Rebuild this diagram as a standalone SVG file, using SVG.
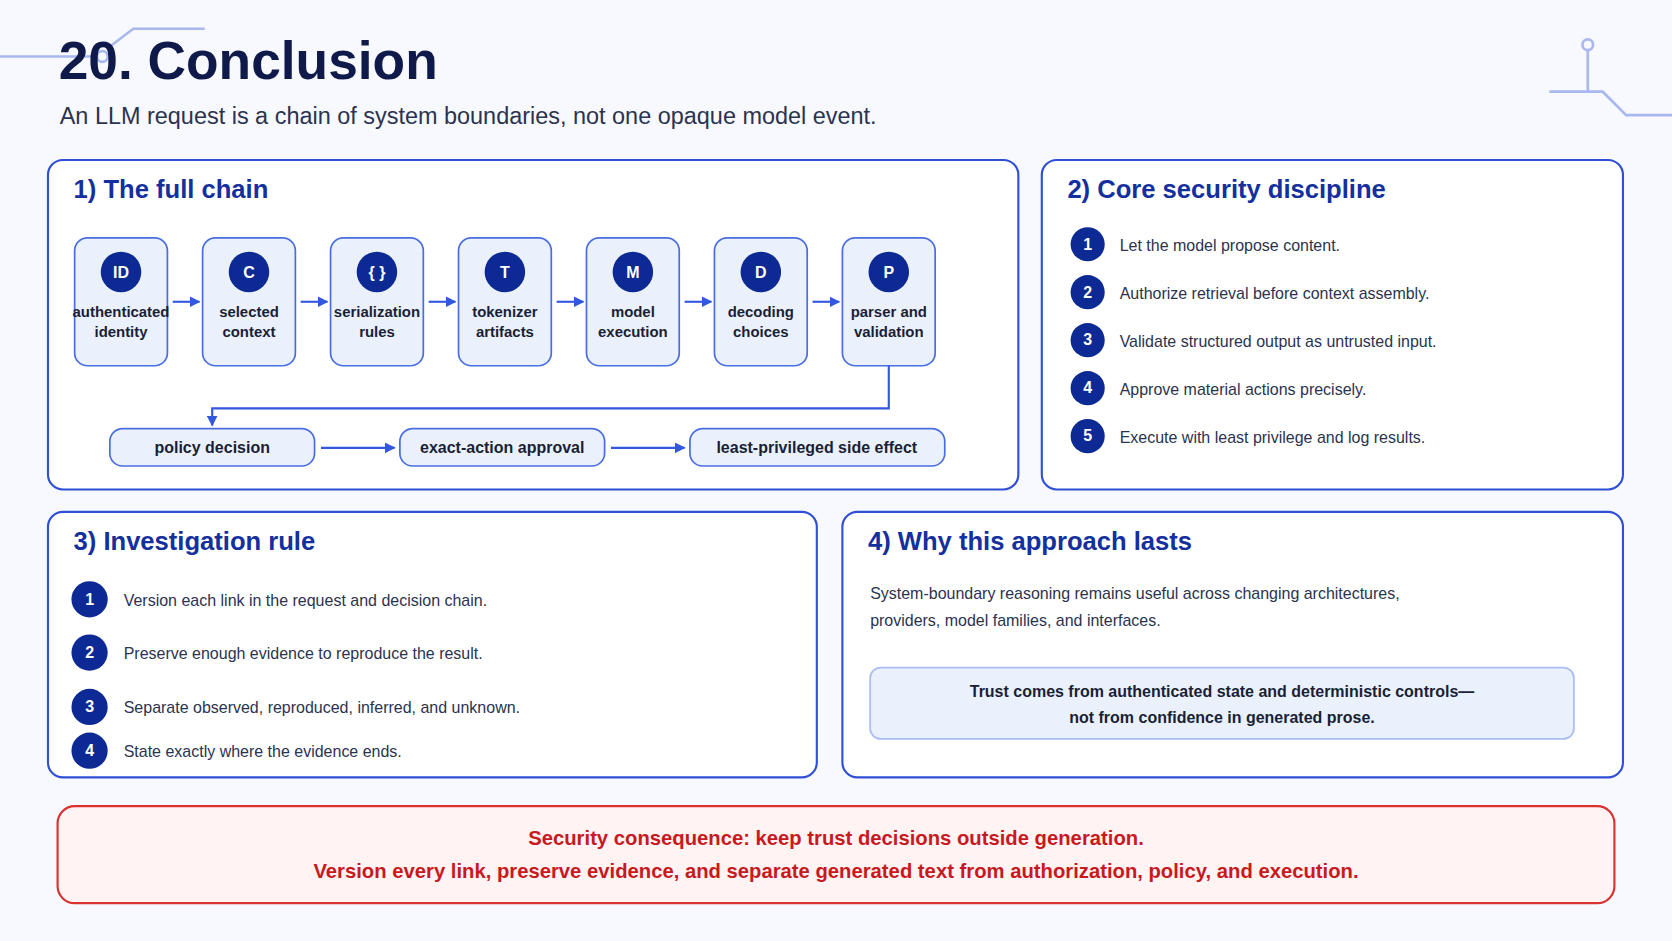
<svg xmlns="http://www.w3.org/2000/svg" width="1672" height="941" viewBox="0 0 1672 941">
<defs>
<style>
text{font-family:"Liberation Sans",Arial,sans-serif}
.panel{fill:#fff;stroke:#2f4fd6;stroke-width:2}
.ptitle{font-size:24px;font-weight:bold;fill:#13309e}
.node{fill:#eaf1fd;stroke:#4a6ee0;stroke-width:1.6}
.circ{fill:#0d2a94}
.clet{font-size:15px;font-weight:bold;fill:#fff;text-anchor:middle}
.nlab{font-size:14px;font-weight:bold;fill:#1a1f36;text-anchor:middle}
.pill{font-size:15px;font-weight:bold;fill:#1a1f36;text-anchor:middle}
.item{font-size:15px;fill:#2b3350}
.conn{stroke:#3358e0;stroke-width:2;fill:none}
.deco{stroke:#a9b8f0;stroke-width:2.5;fill:none}
</style>
<marker id="ah" viewBox="0 0 10 10" refX="9" refY="5" markerWidth="5" markerHeight="5" orient="auto"><path d="M0,0L10,5L0,10z" fill="#3358e0"/></marker>
</defs>
<g transform="scale(1.06633)">
<rect x="0" y="0" width="1568" height="883" fill="#f7f9fe"/>
<g id="decor">
<path class="deco" d="M0,53H92M100,46L125,27H192"/>
<circle class="deco" cx="96" cy="53" r="5"/>
<circle class="deco" cx="1489" cy="42" r="5"/>
<path class="deco" d="M1489,47V86M1453,86H1503L1525,108H1568"/>
</g>
<text x="55" y="74" font-size="50" font-weight="bold" fill="#0f1a4a">20. Conclusion</text>
<text x="56" y="116" font-size="22" fill="#2b3350">An LLM request is a chain of system boundaries, not one opaque model event.</text>

<g id="panel1">
<rect class="panel" x="45" y="150" width="910" height="309" rx="14"/>
<text class="ptitle" x="69" y="186">1) The full chain</text>
</g>
<g id="n1"><rect class="node" x="70" y="223" width="87" height="120" rx="12"/><circle class="circ" cx="113.5" cy="255" r="19"/><text class="clet" x="113.5" y="261">ID</text><text class="nlab" x="113.5" y="297">authenticated</text><text class="nlab" x="113.5" y="316">identity</text></g>
<g id="n2"><rect class="node" x="190" y="223" width="87" height="120" rx="12"/><circle class="circ" cx="233.5" cy="255" r="19"/><text class="clet" x="233.5" y="261">C</text><text class="nlab" x="233.5" y="297">selected</text><text class="nlab" x="233.5" y="316">context</text></g>
<g id="n3"><rect class="node" x="310" y="223" width="87" height="120" rx="12"/><circle class="circ" cx="353.5" cy="255" r="19"/><text class="clet" x="353.5" y="261">{ }</text><text class="nlab" x="353.5" y="297">serialization</text><text class="nlab" x="353.5" y="316">rules</text></g>
<g id="n4"><rect class="node" x="430" y="223" width="87" height="120" rx="12"/><circle class="circ" cx="473.5" cy="255" r="19"/><text class="clet" x="473.5" y="261">T</text><text class="nlab" x="473.5" y="297">tokenizer</text><text class="nlab" x="473.5" y="316">artifacts</text></g>
<g id="n5"><rect class="node" x="550" y="223" width="87" height="120" rx="12"/><circle class="circ" cx="593.5" cy="255" r="19"/><text class="clet" x="593.5" y="261">M</text><text class="nlab" x="593.5" y="297">model</text><text class="nlab" x="593.5" y="316">execution</text></g>
<g id="n6"><rect class="node" x="670" y="223" width="87" height="120" rx="12"/><circle class="circ" cx="713.5" cy="255" r="19"/><text class="clet" x="713.5" y="261">D</text><text class="nlab" x="713.5" y="297">decoding</text><text class="nlab" x="713.5" y="316">choices</text></g>
<g id="n7"><rect class="node" x="790" y="223" width="87" height="120" rx="12"/><circle class="circ" cx="833.5" cy="255" r="19"/><text class="clet" x="833.5" y="261">P</text><text class="nlab" x="833.5" y="297">parser and</text><text class="nlab" x="833.5" y="316">validation</text></g>
<g id="p1"><rect class="node" x="103" y="402" width="192" height="35" rx="12"/><text class="pill" x="199" y="425">policy decision</text></g>
<g id="p2"><rect class="node" x="375" y="402" width="192" height="35" rx="12"/><text class="pill" x="471" y="425">exact-action approval</text></g>
<g id="p3"><rect class="node" x="647" y="402" width="239" height="35" rx="12"/><text class="pill" x="766" y="425">least-privileged side effect</text></g>
<g id="connectors">
<path class="conn" marker-end="url(#ah)" d="M162,283H187"/>
<path class="conn" marker-end="url(#ah)" d="M282,283H307"/>
<path class="conn" marker-end="url(#ah)" d="M402,283H427"/>
<path class="conn" marker-end="url(#ah)" d="M522,283H547"/>
<path class="conn" marker-end="url(#ah)" d="M642,283H667"/>
<path class="conn" marker-end="url(#ah)" d="M762,283H787"/>
<path class="conn" marker-end="url(#ah)" d="M833.5,343V383H199V399"/>
<path class="conn" marker-end="url(#ah)" d="M301,420H370"/>
<path class="conn" marker-end="url(#ah)" d="M573,420H642"/>
</g>

<g id="panel2">
<rect class="panel" x="977" y="150" width="545" height="309" rx="14"/>
<text class="ptitle" x="1001" y="186">2) Core security discipline</text>
<circle class="circ" cx="1020" cy="229" r="16"/><text class="clet" x="1020" y="234">1</text><text class="item" x="1050" y="235">Let the model propose content.</text>
<circle class="circ" cx="1020" cy="274" r="16"/><text class="clet" x="1020" y="279">2</text><text class="item" x="1050" y="280">Authorize retrieval before context assembly.</text>
<circle class="circ" cx="1020" cy="319" r="16"/><text class="clet" x="1020" y="324">3</text><text class="item" x="1050" y="325">Validate structured output as untrusted input.</text>
<circle class="circ" cx="1020" cy="364" r="16"/><text class="clet" x="1020" y="369">4</text><text class="item" x="1050" y="370">Approve material actions precisely.</text>
<circle class="circ" cx="1020" cy="409" r="16"/><text class="clet" x="1020" y="414">5</text><text class="item" x="1050" y="415">Execute with least privilege and log results.</text>
</g>

<g id="panel3">
<rect class="panel" x="45" y="480" width="721" height="249" rx="14"/>
<text class="ptitle" x="69" y="516">3) Investigation rule</text>
<circle class="circ" cx="84" cy="562" r="17"/><text class="clet" x="84" y="567">1</text><text class="item" x="116" y="568">Version each link in the request and decision chain.</text>
<circle class="circ" cx="84" cy="612" r="17"/><text class="clet" x="84" y="617">2</text><text class="item" x="116" y="618">Preserve enough evidence to reproduce the result.</text>
<circle class="circ" cx="84" cy="663" r="17"/><text class="clet" x="84" y="668">3</text><text class="item" x="116" y="669">Separate observed, reproduced, inferred, and unknown.</text>
<circle class="circ" cx="84" cy="704" r="17"/><text class="clet" x="84" y="709">4</text><text class="item" x="116" y="710">State exactly where the evidence ends.</text>
</g>

<g id="panel4">
<rect class="panel" x="790" y="480" width="732" height="249" rx="14"/>
<text class="ptitle" x="814" y="516">4) Why this approach lasts</text>
<text class="item" x="816" y="562">System-boundary reasoning remains useful across changing architectures,</text>
<text class="item" x="816" y="587">providers, model families, and interfaces.</text>
<rect x="816" y="626" width="660" height="67" rx="10" fill="#eaf1fd" stroke="#a9bdf3" stroke-width="1.6"/>
<text class="pill" x="1146" y="654">Trust comes from authenticated state and deterministic controls—</text>
<text class="pill" x="1146" y="678">not from confidence in generated prose.</text>
</g>

<g id="consequence">
<rect x="54" y="756" width="1460" height="91" rx="16" fill="#fff3f3" stroke="#d93030" stroke-width="2"/>
<text x="784" y="792" font-size="19" font-weight="bold" fill="#c8191e" text-anchor="middle">Security consequence: keep trust decisions outside generation.</text>
<text x="784" y="823" font-size="19" font-weight="bold" fill="#c8191e" text-anchor="middle">Version every link, preserve evidence, and separate generated text from authorization, policy, and execution.</text>
</g>
</g>
</svg>
